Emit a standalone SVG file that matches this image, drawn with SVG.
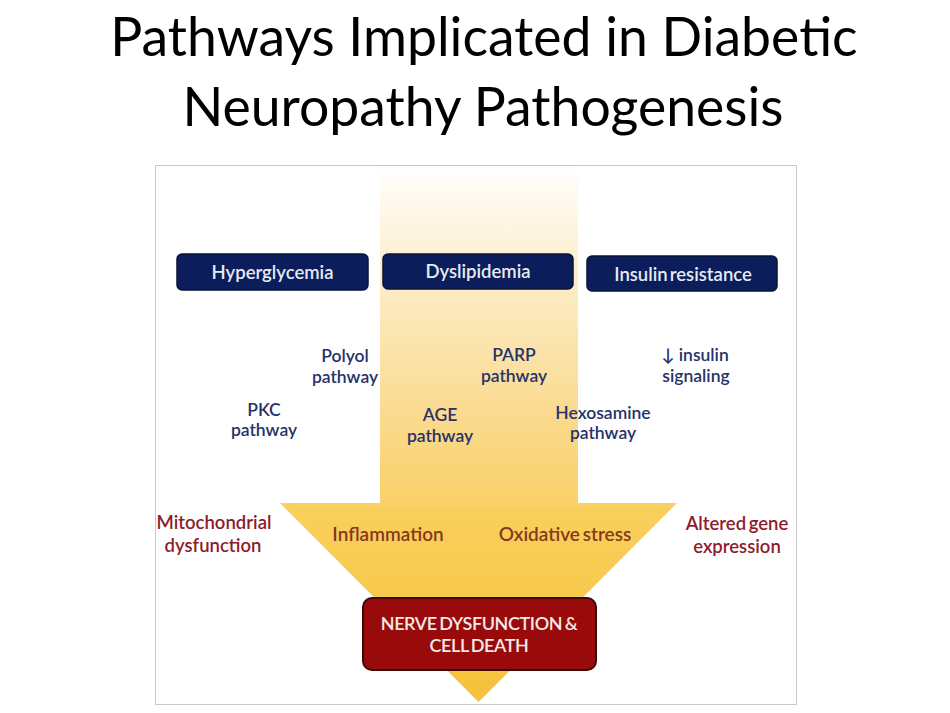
<svg xmlns="http://www.w3.org/2000/svg" width="950" height="713" viewBox="0 0 950 713">
<defs>
<linearGradient id="arrowGrad" gradientUnits="userSpaceOnUse" x1="0" y1="165" x2="0" y2="702">
<stop offset="0" stop-color="#ffffff"/>
<stop offset="0.2" stop-color="#fdeecb"/>
<stop offset="0.45" stop-color="#fadb92"/>
<stop offset="0.63" stop-color="#f9d168"/>
<stop offset="0.64" stop-color="#f9cf5c"/>
<stop offset="1" stop-color="#f6c13a"/>
</linearGradient>
<style>
.title{font-family:Lato,"Open Sans",sans-serif;font-size:53.5px;fill:#000;text-anchor:middle}
.box{fill:#0b1e5b;stroke:#081339;stroke-width:1.5}
.boxtxt{font-family:Lato,"Open Sans",sans-serif;font-size:18.5px;font-weight:600;fill:#e6eaf4;text-anchor:middle}
.path{font-family:Lato,"Open Sans",sans-serif;font-size:17.5px;font-weight:600;fill:#27326a;text-anchor:middle}
.red{font-family:Lato,"Open Sans",sans-serif;font-size:18.5px;font-weight:600;fill:#8c1c2c;text-anchor:middle}
.brown{font-family:Lato,"Open Sans",sans-serif;font-size:19px;font-weight:600;fill:#85391d;text-anchor:middle}
.end{fill:#990b0b;stroke:#3d0808;stroke-width:2}
.endtxt{font-family:Lato,"Open Sans",sans-serif;font-size:18px;font-weight:600;fill:#f6e9e6;text-anchor:middle;letter-spacing:-0.4px}
</style>
</defs>
<rect width="950" height="713" fill="#ffffff"/>
<g id="title">
<text class="title" x="484" y="56">Pathways Implicated in Diabetic</text>
<text class="title" x="483" y="126">Neuropathy Pathogenesis</text>
</g>
<rect id="frame" x="155.5" y="165.5" width="641" height="539" fill="#ffffff" stroke="#c9c9c9" stroke-width="1"/>
<g id="connectors">
<path id="big-arrow" d="M380,167 L578,167 L578,503 L677,503 L478.5,702 L280,503 L380,503 Z" fill="url(#arrowGrad)"/>
</g>
<g id="hyperglycemia">
<rect class="box" x="177" y="254" width="191" height="36" rx="5"/>
<text class="boxtxt" x="272.5" y="278.5">Hyperglycemia</text>
</g>
<g id="dyslipidemia">
<rect class="box" x="383" y="254" width="190" height="35" rx="5"/>
<text class="boxtxt" x="478" y="278">Dyslipidemia</text>
</g>
<g id="insulin-resistance">
<rect class="box" x="587" y="256" width="190" height="35" rx="5"/>
<text class="boxtxt" x="683" y="280.5" word-spacing="-2.5">Insulin resistance</text>
</g>
<g id="polyol">
<text class="path" x="345" y="362">Polyol</text>
<text class="path" x="345" y="383">pathway</text>
</g>
<g id="parp">
<text class="path" x="514" y="361">PARP</text>
<text class="path" x="514" y="382">pathway</text>
</g>
<g id="insulin-signaling">
<text class="path" x="695" y="361">↓ insulin</text>
<text class="path" x="696" y="382">signaling</text>
</g>
<g id="pkc">
<text class="path" x="264" y="416">PKC</text>
<text class="path" x="264" y="436">pathway</text>
</g>
<g id="age">
<text class="path" x="440" y="421">AGE</text>
<text class="path" x="440" y="442">pathway</text>
</g>
<g id="hexosamine">
<text class="path" x="603" y="419">Hexosamine</text>
<text class="path" x="603" y="439">pathway</text>
</g>
<g id="mitochondrial">
<text class="red" x="214" y="529">Mitochondrial</text>
<text class="red" x="213" y="552">dysfunction</text>
</g>
<g id="altered-gene">
<text class="red" x="737" y="530" word-spacing="-2">Altered gene</text>
<text class="red" x="737" y="553">expression</text>
</g>
<g id="inflammation">
<text class="brown" x="388" y="541">Inflammation</text>
</g>
<g id="oxidative-stress">
<text class="brown" x="565" y="541" word-spacing="-2">Oxidative stress</text>
</g>
<g id="nerve-dysfunction">
<rect class="end" x="363" y="598" width="233" height="72" rx="9"/>
<text class="endtxt" x="479" y="630" word-spacing="-1.5">NERVE DYSFUNCTION &amp;</text>
<text class="endtxt" x="479" y="652" word-spacing="-1.5">CELL DEATH</text>
</g>
</svg>
